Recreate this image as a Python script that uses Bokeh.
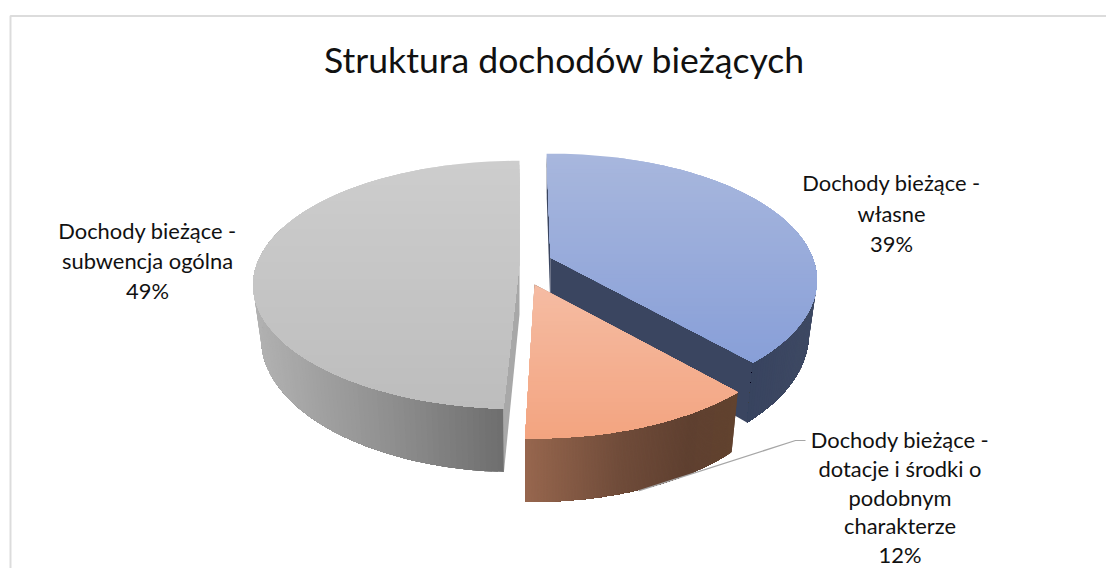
import math
from bokeh.plotting import figure
from bokeh.models import Range1d
from bokeh.core.properties import value
from bokeh.embed import file_html
from bokeh.resources import INLINE

# ---- data ----
title_text = "Struktura dochodów bieżących"
categories = ["Dochody bieżące -\nwłasne",
              "Dochody bieżące -\ndotacje i środki o\npodobnym\ncharakterze",
              "Dochody bieżące -\nsubwencja ogólna"]
shares = [38.6, 12.2, 49.2]

# ---- style / layout ----
FONT = "Lato"
W, H_PAGE = 1106, 568
K, HY, RX, DEPTH, SHRINK = 0.18, 122.5, 262.0, 52.0, 0.97
apex = [(550, 257), (534, 284), (519, 262)]
hy_scale = [1.0, 1.03, 0.98]
rot = [-1.0, -1.2, 0.0]
top_grad = [("#A8B7DD", "#889FD8"), ("#F5BCA3", "#F3A480"), ("#CDCDCD", "#BDBDBD")]
wall_stops = [
    [(550, "#3A4560"), (700, "#333F5C"), (816, "#3E4963")],
    [(520, "#99684F"), (620, "#704C3A"), (690, "#5F4030"), (740, "#62432F")],
    [(251, "#B2B2B2"), (400, "#8C8C8C"), (503, "#6E6E6E")],
]
radial_wall = ["#3A4560", "#5F4030", "#A8A8A8"]
label_x = [891, 899.5, 147]
label_y = [182, 439, 230]
line_h = [30.5, 28.8, 30.0]

p = figure(width=W, height=H_PAGE, x_range=Range1d(0, W), y_range=Range1d(H_PAGE, 0),
           output_backend="svg", toolbar_location=None, min_border=0,
           background_fill_color="white", border_fill_color="white", outline_line_color=None)
p.axis.visible = False
p.grid.visible = False

def hex2rgb(c):
    return tuple(int(c[i:i + 2], 16) for i in (1, 3, 5))

def mix(a, b, t):
    t = max(0.0, min(1.0, t))
    ra, rb = hex2rgb(a), hex2rgb(b)
    return "#%02x%02x%02x" % tuple(round(ra[i] + (rb[i] - ra[i]) * t) for i in range(3))

def ramp(stops, x):
    if x <= stops[0][0]:
        return stops[0][1]
    for (x0, c0), (x1, c1) in zip(stops, stops[1:]):
        if x <= x1:
            return mix(c0, c1, (x - x0) / (x1 - x0))
    return stops[-1][1]

def rim(i, th):
    r = math.radians(th)
    u, v = math.sin(r), math.cos(r)
    s = 1 / (1 + K * v)
    return apex[i][0] + RX * u * s, apex[i][1] - HY * hy_scale[i] * v * s, s

def rim_low(i, th):
    x, y, s = rim(i, th)
    return apex[i][0] + (x - apex[i][0]) * SHRINK, y + DEPTH * s

def clip_from(poly, y0):
    """Part of the convex polygon lying below y0 (the painter's way, so no seams show)."""
    out = []
    for a, b in zip(poly, poly[1:] + poly[:1]):
        ia, ib = a[1] >= y0, b[1] >= y0
        if ia:
            out.append(a)
        if ia != ib:
            t = (y0 - a[1]) / (b[1] - a[1])
            out.append((a[0] + (b[0] - a[0]) * t, y0))
    return out

bounds = []
acc = 0.0
total = sum(shares)
for sh in shares:
    bounds.append((acc / total * 360, (acc + sh) / total * 360))
    acc += sh

for i in [2, 0, 1]:
    a0 = bounds[i][0] + (rot[i] if i != 2 else 0)
    a1 = bounds[i][1] + (rot[i] if i != 2 else 0)
    ax, ay = apex[i]
    # radial cut faces
    for a in (a0, a1):
        x, y, _ = rim(i, a)
        xl, yl = rim_low(i, a)
        p.patch([ax, x, xl, ax], [ay, y, yl, ay + DEPTH], fill_color=radial_wall[i], line_color=None)
    # outer wall: strips from the start angle, each one covering the rest of the arc
    n = 160
    steps = [a0 + (a1 - a0) * j / n for j in range(n + 1)]
    steps = [a for a in steps if math.cos(math.radians(a)) <= 0.3]
    for j in range(len(steps) - 1):
        tail = steps[j:]
        upper = [rim(i, a)[:2] for a in tail]
        lower = [rim_low(i, a) for a in reversed(tail)]
        pts = upper + lower
        xm = rim(i, (steps[j] + steps[j + 1]) / 2)[0]
        p.patch([q[0] for q in pts], [q[1] for q in pts], fill_color=ramp(wall_stops[i], xm), line_color=None)
    # top face: gradient bands, each one covering everything below it
    m = 90
    poly = [(ax, ay)] + [rim(i, a0 + (a1 - a0) * j / m)[:2] for j in range(m + 1)]
    ymin, ymax = min(q[1] for q in poly), max(q[1] for q in poly)
    bands = max(2, int((ymax - ymin) / 4))
    for b in range(bands):
        y0 = ymin + (ymax - ymin) * b / bands
        c = poly if b == 0 else clip_from(poly, y0)
        if len(c) >= 3:
            col = mix(top_grad[i][0], top_grad[i][1], (b + 0.5) / bands)
            p.patch([q[0] for q in c], [q[1] for q in c], fill_color=col, line_color=None)

# chart frame
p.line([10, 10, W], [H_PAGE, 15.5, 15.5], line_color="#DCDCDC", line_width=2)

# leader line of the middle slice
mid = sum(bounds[1]) / 2
lx, ly = rim_low(1, mid)
p.line([lx + 4, 795, 805], [ly, 440, 440], line_color="#A6A6A6", line_width=1.2)

# texts
p.text([564], [59], text=[title_text], text_font=value(FONT), text_font_size="35.6px",
       text_align="center", text_baseline="middle", text_color="#111111")
for i, cat in enumerate(categories):
    lines = cat.split("\n") + ["%d%%" % round(shares[i] / total * 100)]
    p.text([label_x[i]] * len(lines), [label_y[i] + line_h[i] * k for k in range(len(lines))], text=lines,
           text_font=value(FONT), text_font_size="21.9px", text_align="center",
           text_baseline="middle", text_color="#111111")

open("out.html", "w").write(file_html(p, INLINE))
